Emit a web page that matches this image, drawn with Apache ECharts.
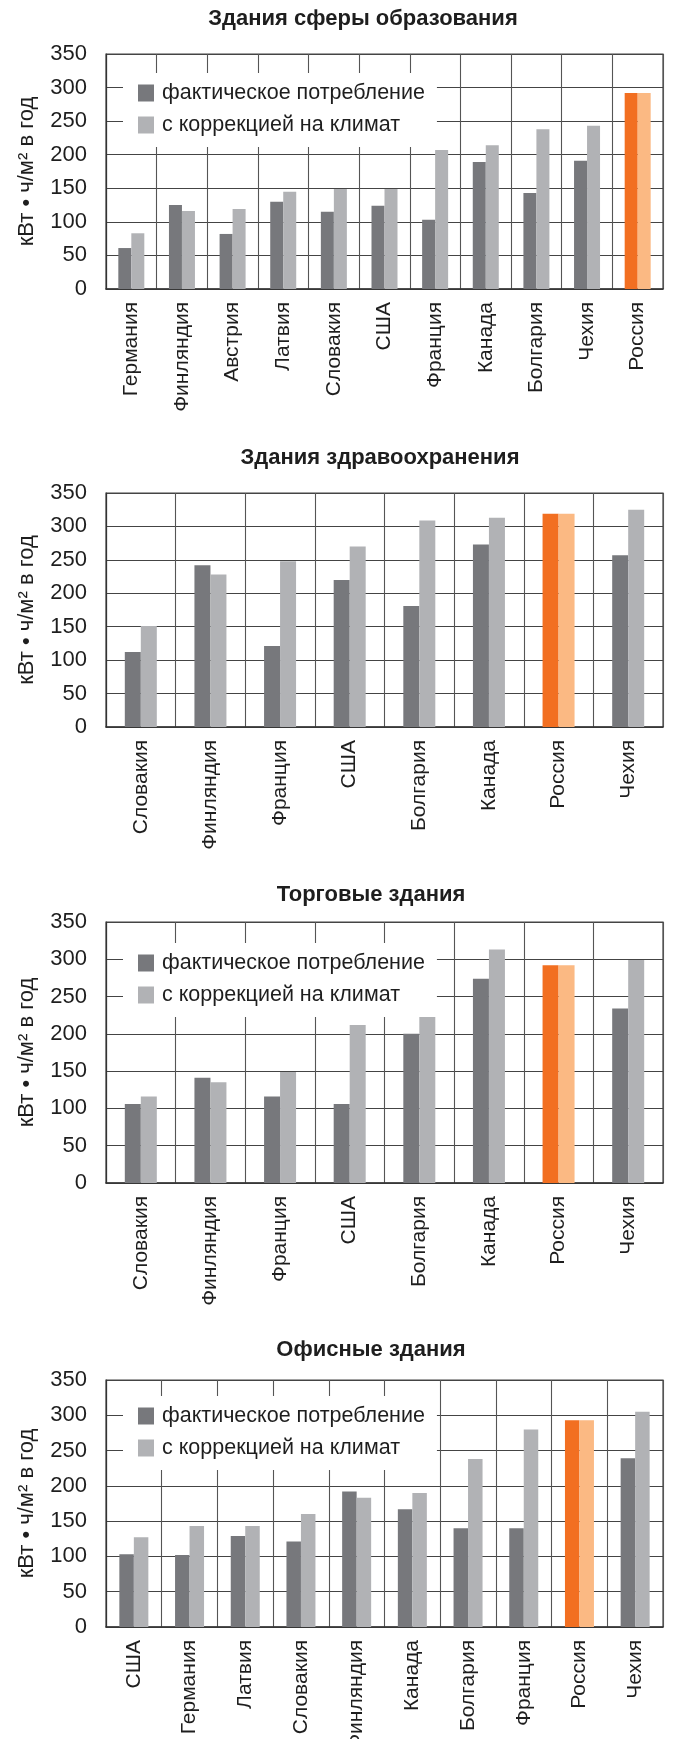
<!DOCTYPE html>
<html>
<head>
<meta charset="utf-8">
<script src="https://cdn.jsdelivr.net/npm/echarts@6/dist/echarts.min.js"></script>
<style>
  html, body { margin: 0; padding: 0; background: #ffffff; }
  #chart { width: 673px; height: 1739px; }
</style>
</head>
<body>
<div id="chart"></div>
<script>
// Удельное энергопотребление зданий, кВт·ч/м² в год
const eduCats = ['Германия', 'Финляндия', 'Австрия', 'Латвия', 'Словакия', 'США', 'Франция', 'Канада', 'Болгария', 'Чехия', 'Россия'];
const eduActual = [61, 125, 82, 130, 115, 124, 103, 189, 143, 191, 292];
const eduClimate = [83, 116, 119, 145, 149, 149, 207, 214, 238, 243, 292];

const healthCats = ['Словакия', 'Финляндия', 'Франция', 'США', 'Болгария', 'Канада', 'Россия', 'Чехия'];
const healthActual = [112, 242, 121, 220, 181, 273, 319, 257];
const healthClimate = [151, 228, 248, 270, 309, 313, 319, 325];

const tradeCats = ['Словакия', 'Финляндия', 'Франция', 'США', 'Болгария', 'Канада', 'Россия', 'Чехия'];
const tradeActual = [106, 141, 116, 106, 200, 274, 292, 234];
const tradeClimate = [116, 135, 149, 212, 227, 313, 292, 299];

const officeCats = ['США', 'Германия', 'Латвия', 'Словакия', 'Финляндия', 'Канада', 'Болгария', 'Франция', 'Россия', 'Чехия'];
const officeActual = [103, 102, 129, 121, 192, 167, 140, 140, 293, 239];
const officeClimate = [127, 143, 143, 160, 183, 190, 238, 280, 293, 305];

const yTicks = { min: 0, max: 350, step: 50 };
const seriesNames = ['фактическое потребление', 'с коррекцией на климат'];
const yAxisTitle = 'кВт • ч/м² в год';
const highlightCategory = 'Россия';

// Panel layout (pixels inside the page)
const panels = [
  { title: 'Здания сферы образования', cats: eduCats, actual: eduActual, climate: eduClimate,
    top: 54, height: 235, barWidth: 13, titleX: 363, titleTop: 6, legendTop: 73 },
  { title: 'Здания здравоохранения', cats: healthCats, actual: healthActual, climate: healthClimate,
    top: 493, height: 234, barWidth: 16, titleX: 380, titleTop: 445, legendTop: null },
  { title: 'Торговые здания', cats: tradeCats, actual: tradeActual, climate: tradeClimate,
    top: 922, height: 261, barWidth: 16, titleX: 371, titleTop: 882, legendTop: 943 },
  { title: 'Офисные здания', cats: officeCats, actual: officeActual, climate: officeClimate,
    top: 1380, height: 247, barWidth: 14.5, titleX: 371, titleTop: 1337, legendTop: 1396 }
];

const FONT = '"Liberation Sans", Arial, sans-serif';
const COLORS = {
  actual: '#77787c',
  climate: '#b1b2b5',
  actualHi: '#f26f21',
  climateHi: '#fbb983',
  hGrid: '#444444',
  vGrid: '#555555',
  axis: '#333333',
  text: '#1e1e1e'
};

const title = [];
const legend = [];
const grid = [];
const xAxis = [];
const yAxis = [];
const series = [];

panels.forEach((p, i) => {
  title.push({
    text: p.title,
    left: p.titleX,
    top: p.titleTop,
    textAlign: 'center',
    padding: 0,
    textStyle: { fontFamily: FONT, fontWeight: 'bold', fontSize: 22, lineHeight: 26, color: COLORS.text }
  });

  if (p.legendTop !== null) {
    legend.push({
      data: seriesNames.map(n => ({ name: n, icon: 'rect' })),
      orient: 'vertical',
      left: 123,
      top: p.legendTop,
      padding: [9, 12, 11, 15],
      backgroundColor: '#ffffff',
      itemWidth: 16,
      itemHeight: 17,
      itemGap: 10,
      selectedMode: false,
      textStyle: { fontFamily: FONT, fontSize: 21.5, lineHeight: 18, color: COLORS.text, padding: [0, 0, 0, 3] }
    });
  }

  // fixed plot rectangle; long rotated labels may run past the page edge
  grid.push({
    left: 106, width: 557, top: p.top, height: p.height,
    outerBoundsMode: 'none', containLabel: false,
    show: true, borderColor: COLORS.hGrid, borderWidth: 1.2, backgroundColor: 'transparent'
  });

  xAxis.push({
    type: 'category',
    gridIndex: i,
    data: p.cats,
    axisTick: { show: false },
    axisLine: { show: true, lineStyle: { color: COLORS.axis, width: 1.6 } },
    splitLine: { show: true, lineStyle: { color: COLORS.vGrid, width: 1.1 } },
    axisLabel: { rotate: 90, fontFamily: FONT, fontSize: 21, margin: 13, color: COLORS.text, interval: 0 }
  });

  yAxis.push({
    type: 'value',
    gridIndex: i,
    min: yTicks.min,
    max: yTicks.max,
    interval: yTicks.step,
    axisLine: { show: true, lineStyle: { color: COLORS.axis, width: 1.2 } },
    axisTick: { show: false },
    splitLine: { show: true, lineStyle: { color: COLORS.hGrid, width: 1.2 } },
    axisLabel: { fontFamily: FONT, fontSize: 22, margin: 19, color: COLORS.text },
    name: yAxisTitle,
    nameLocation: 'middle',
    nameRotate: 90,
    nameGap: 68,
    nameTextStyle: { fontFamily: FONT, fontSize: 22, color: COLORS.text }
  });

  const mark = (values, hi) => values.map((v, j) =>
    p.cats[j] === highlightCategory ? { value: v, itemStyle: { color: hi } } : v);

  series.push({
    name: seriesNames[0], type: 'bar', xAxisIndex: i, yAxisIndex: i,
    barWidth: p.barWidth, barGap: '0%',
    itemStyle: { color: COLORS.actual },
    data: mark(p.actual, COLORS.actualHi)
  });
  series.push({
    name: seriesNames[1], type: 'bar', xAxisIndex: i, yAxisIndex: i,
    barWidth: p.barWidth, barGap: '0%',
    itemStyle: { color: COLORS.climate },
    data: mark(p.climate, COLORS.climateHi)
  });
});

const chart = echarts.init(document.getElementById('chart'), null, { renderer: 'canvas' });
chart.setOption({
  animation: false,
  backgroundColor: '#ffffff',
  title, legend, grid, xAxis, yAxis, series
});
</script>
</body>
</html>
